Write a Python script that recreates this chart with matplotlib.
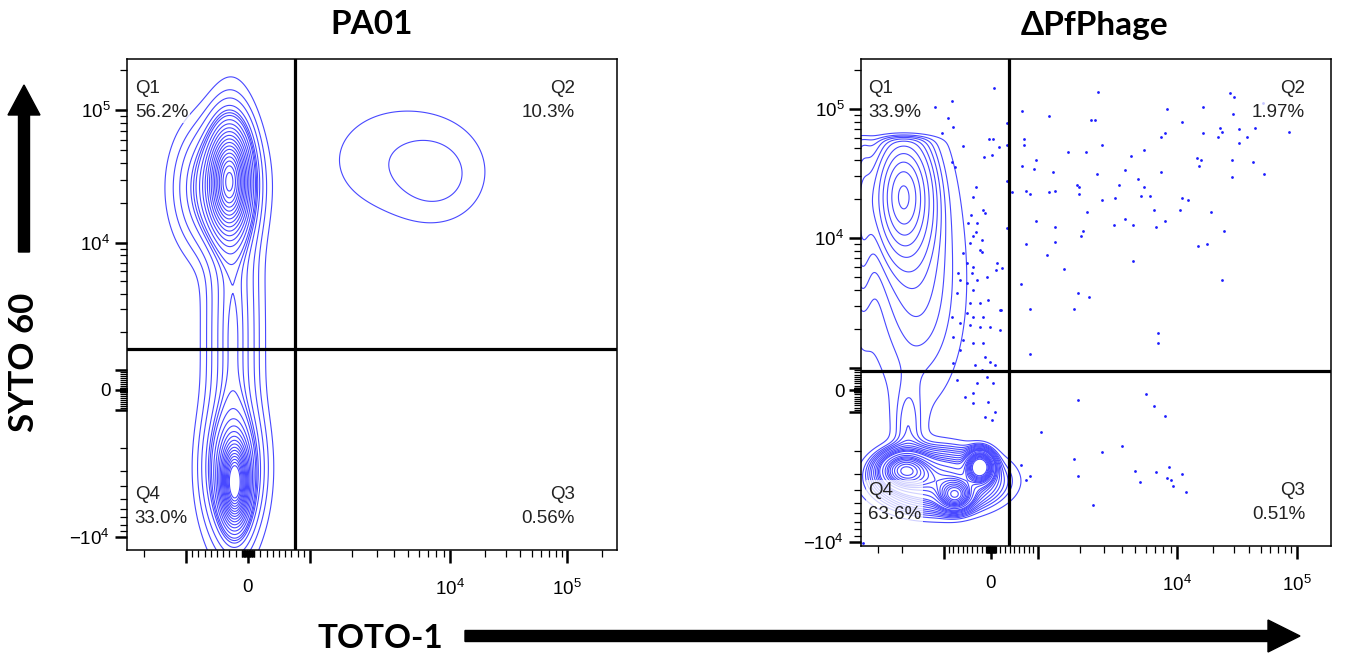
import numpy as np
import matplotlib
matplotlib.use("Agg")
import matplotlib.pyplot as plt
from matplotlib.patches import FancyArrow

plt.rcParams["font.family"] = ["Liberation Sans", "DejaVu Sans"]
plt.rcParams["mathtext.fontset"] = "custom"
plt.rcParams["mathtext.rm"] = "Liberation Sans"
plt.rcParams["mathtext.it"] = "Liberation Sans"

# ---------------- data ----------------
titles = ["PA01", "ΔPfPhage"]
quad_names = ["Q1", "Q2", "Q3", "Q4"]
quad_pct = [["56.2%", "10.3%", "0.56%", "33.0%"],
            ["33.9%", "1.97%", "0.51%", "63.6%"]]

# quadrant gates, in fluorescence units (TOTO-1, SYTO 60)
gate_toto = [760, 380]
gate_syto = [1460, 860]

# display scale of each panel: channel of zero and channel offsets of 1e3..1e6
chan_size = [(490, 491), (470, 487)]
x_zero = [121, 130]
x_knots = [[62, 202, 319, 436], [47, 186, 306, 426]]
y_zero = [160, 156]
y_knots = [[20, 147, 280, 413], [22, 152, 281, 410]]
# highest channel reached by events (detector saturation), per panel
y_sat = [9999, 410]

# populations as gaussian blobs in display channels: x, y, sx, sy, fraction
pa01_pops = [
    (103, 370, 12, 32, 0.28),   # Q1 core
    (90, 362, 22, 36, 0.14),    # Q1 halo
    (106, 215, 15, 105, 0.18),  # stripe between Q1 and Q4
    (108, 66, 8, 24, 0.15),     # Q4 core
    (106, 80, 16, 38, 0.15),    # Q4 halo
    (274, 390, 52, 40, 0.045),  # Q2 cloud
    (312, 372, 28, 28, 0.016),  # Q2 cloud, lower right
]
dpf_pops = [
    (42, 352, 19, 40, 0.16),    # Q1 core
    (52, 300, 32, 80, 0.12),    # Q1 halo
    (0, 330, 8, 70, 0.03),      # piled at left edge
    (60, 230, 30, 70, 0.06),    # tail towards Q4
    (47, 115, 10, 30, 0.015),   # spike above Q4
    (78, 65, 32, 16, 0.25),     # Q4 band
    (44, 76, 14, 10, 0.12),     # Q4 hot spot left
    (119, 79, 7, 8, 0.10),      # Q4 hot spot right
    (94, 51, 9, 8, 0.07),       # Q4 hot spot bottom
]

# outlier events of the ΔPfPhage sample, display channels
dpf_x = [237, 161, 188, 230, 234, 306, 342, 369, 373, 321, 372, 359, 361, 357,
         378, 378, 342, 304, 300, 283, 270, 225, 207, 241, 163, 163, 175, 161,
         173, 192, 236, 264, 300, 336, 340, 338, 371, 392, 403, 371, 277, 258,
         216, 218, 218, 194, 188, 165, 169, 151, 241, 254, 280, 283, 289, 293,
         321, 327, 319, 350, 363, 304, 295, 272, 264, 253, 226, 222, 220, 194,
         194, 175, 165, 186, 203, 272, 337, 346, 361, 160, 217, 228, 213, 169,
         297, 297, 169, 386, 394, 402, 428,
         146, 146, 146, 146, 141, 140,
         285, 217, 293, 304, 180, 261, 241, 213, 160, 169, 165, 217, 274, 279,
         295, 308, 306, 310, 312, 321, 325, 232,
         133, 91, 74, 87, 92, 81, 128, 132, 138, 102, 123, 131, 91, 94, 115, 112,
         122, 124, 110, 107, 116, 115, 112, 121, 109, 119, 102, 121, 106, 112,
         97, 111, 99, 106, 116, 126, 136, 135, 96, 112, 119, 127, 109, 106, 112,
         122, 139, 91, 99, 109, 119, 129, 92, 102, 112, 122, 139, 99, 92, 114,
         129, 134, 124, 121, 126, 96, 116, 132,
         104, 112, 127, 134, 124, 131, 112, 2]
dpf_y = [454, 435, 430, 426, 426, 437, 439, 453, 449, 424, 432, 418, 414, 409,
         417, 403, 413, 413, 409, 396, 390, 394, 394, 401, 407, 401, 386, 380,
         377, 374, 372, 376, 374, 388, 386, 380, 386, 384, 372, 369, 367, 361,
         361, 359, 352, 355, 354, 355, 352, 354, 346, 348, 350, 359, 350, 336,
         348, 346, 336, 334, 315, 325, 319, 321, 327, 321, 334, 315, 310, 319,
         304, 325, 302, 291, 277, 285, 300, 302, 266, 262, 253, 249, 237, 237,
         213, 203, 192, 409, 418, 443, 414,
         423, 401, 365, 318, 278, 236,
         152, 146, 140, 130, 114, 100, 94, 87, 81, 70, 66, 70, 75, 64,
         74, 79, 68, 66, 60, 72, 54, 41,
         458, 445, 439, 428, 419, 413, 407, 407, 399, 400, 389, 391, 384, 379,
         359, 349, 336, 333, 331, 323, 323, 314, 310, 306, 303, 296, 293, 294,
         283, 279, 273, 273, 266, 263, 266, 269, 283, 276, 253, 256, 243, 246,
         243, 233, 229, 229, 236, 229, 223, 221, 219, 219, 209, 206, 203, 203,
         216, 196, 183, 181, 184, 181, 189, 176, 169, 166, 163, 163,
         149, 143, 144, 134, 129, 126, 153, 3]


def make_chan(zero, knots):
    logs = np.array([3.0, 4.0, 5.0, 6.0])
    kn = np.asarray(knots, float)

    def chan(v):
        v = np.asarray(v, float)
        a = np.abs(v)
        lg = np.interp(np.log10(np.maximum(a, 1e-9)), logs, kn)
        off = np.where(a < 1e3, a / 1e3 * kn[0], lg)
        return zero + np.sign(v) * off
    return chan


def density(pops, w, h, top):
    gx, gy = np.meshgrid(np.arange(-20, w + 21, 1.0), np.arange(-20, h + 21, 1.0))
    z = np.zeros_like(gx)
    for cx, cy, sx, sy, m in pops:
        z += m / (2 * np.pi * sx * sy) * np.exp(
            -0.5 * ((gx - cx) / sx) ** 2 - 0.5 * ((gy - cy) / sy) ** 2)
    z /= 1 + np.exp(np.clip((gy - top) / 2.5, -50, 50))
    return gx, gy, z


def prob_levels(z, fracs):
    zs = np.sort(z.ravel())[::-1]
    cm = np.cumsum(zs)
    cm /= cm[-1]
    return np.unique([zs[np.searchsorted(cm, f)] for f in fracs])


fig = plt.figure(figsize=(13.52, 6.6), dpi=100)
axes = [fig.add_axes([0.0939, 0.1667, 0.3624, 0.7439]),
        fig.add_axes([0.6368, 0.1727, 0.3476, 0.7379])]
fracs = np.linspace(0.06, 0.965, 21)
blue = "#4848ff"

for i, ax in enumerate(axes):
    w, h = chan_size[i]
    cx = make_chan(x_zero[i], x_knots[i])
    cy = make_chan(y_zero[i], y_knots[i])
    pops = pa01_pops if i == 0 else dpf_pops

    gx, gy, z = density(pops, w, h, y_sat[i])
    ax.contour(gx, gy, z, levels=prob_levels(z, fracs), colors=blue,
               linewidths=0.8)
    if i == 1:
        ax.scatter(dpf_x, dpf_y, s=4, color="#1c1cff", linewidths=0, zorder=3)

    ax.axvline(cx(gate_toto[i]), color="black", lw=2.3, zorder=4)
    ax.axhline(cy(gate_syto[i]), color="black", lw=2.3, zorder=4)

    ax.set_xlim(0, w)
    ax.set_ylim(0, h)

    # ticks of the biexponential axis
    xmaj = [-1e3, 0, 1e3, 1e4, 1e5]
    ymaj = [-1e4, -1e3, 0, 1e3, 1e4, 1e5]
    minor = [s * k * 10 ** n for n in range(1, 6) for k in range(1, 10)
             for s in (-1, 1) if not (k == 1 and n >= 3)]
    ax.set_xticks(cx(xmaj), ["", "0", "", "$10^4$", "$10^5$"])
    ax.set_yticks(cy(ymaj), ["$-10^4$", "", "0", "", "$10^4$", "$10^5$"])
    mx = cx(minor)
    my = cy(minor)
    ax.set_xticks(mx[(mx > 0) & (mx < w)], minor=True)
    ax.set_yticks(my[(my > 0) & (my < h)], minor=True)
    ax.tick_params(which="major", length=9, width=1.8, labelsize=13.5, pad=12)
    ax.tick_params(axis="y", which="major", pad=3)
    ax.tick_params(which="minor", length=5, width=0.9)
    for sp in ax.spines.values():
        sp.set_linewidth(1.1)

    box = dict(facecolor="white", edgecolor="none", alpha=0.75, pad=1.5)
    kw = dict(transform=ax.transAxes, fontsize=13.5, linespacing=1.55,
              color="#222222", bbox=box, zorder=5)
    xl, xr = (0.016, 0.914) if i == 0 else (0.015, 0.945)
    names = quad_names
    pct = quad_pct[i]
    ax.text(xl, 0.957, names[0] + "\n" + pct[0], ha="left", va="top", **kw)
    ax.text(xr, 0.957, names[1] + "\n" + pct[1], ha="right", va="top",
            multialignment="right", **kw)
    ax.text(xr, 0.047, names[2] + "\n" + pct[2], ha="right", va="bottom",
            multialignment="right", **kw)
    ax.text(xl, 0.047, names[3] + "\n" + pct[3], ha="left", va="bottom", **kw)

bold = dict(family=["Lato", "DejaVu Sans"], fontweight="bold", color="black")
fig.text(372 / 1352, 1 - 25 / 660, titles[0], ha="center", va="center",
         fontsize=24, **bold)
fig.text(1095 / 1352, 1 - 25 / 660, titles[1], ha="center", va="center",
         fontsize=24, **bold)
fig.text(380 / 1352, 1 - 638 / 660, "TOTO-1", ha="center", va="center",
         fontsize=24, **bold)
fig.text(24 / 1352, 1 - 362 / 660, "SYTO 60", ha="center", va="center",
         rotation=90, fontsize=25, **bold)

# axis arrows, drawn on an overlay in pixel units
ov = fig.add_axes([0, 0, 1, 1])
ov.set_xlim(0, 1352)
ov.set_ylim(660, 0)
ov.axis("off")
ov.patch.set_visible(False)
ov.add_patch(FancyArrow(24, 252, 0, -137, width=11, head_width=32,
                        head_length=30, length_includes_head=False,
                        color="black"))
ov.add_patch(FancyArrow(465, 636, 803, 0, width=11, head_width=32,
                        head_length=32, color="black"))

fig.savefig("out.png", dpi=100)
